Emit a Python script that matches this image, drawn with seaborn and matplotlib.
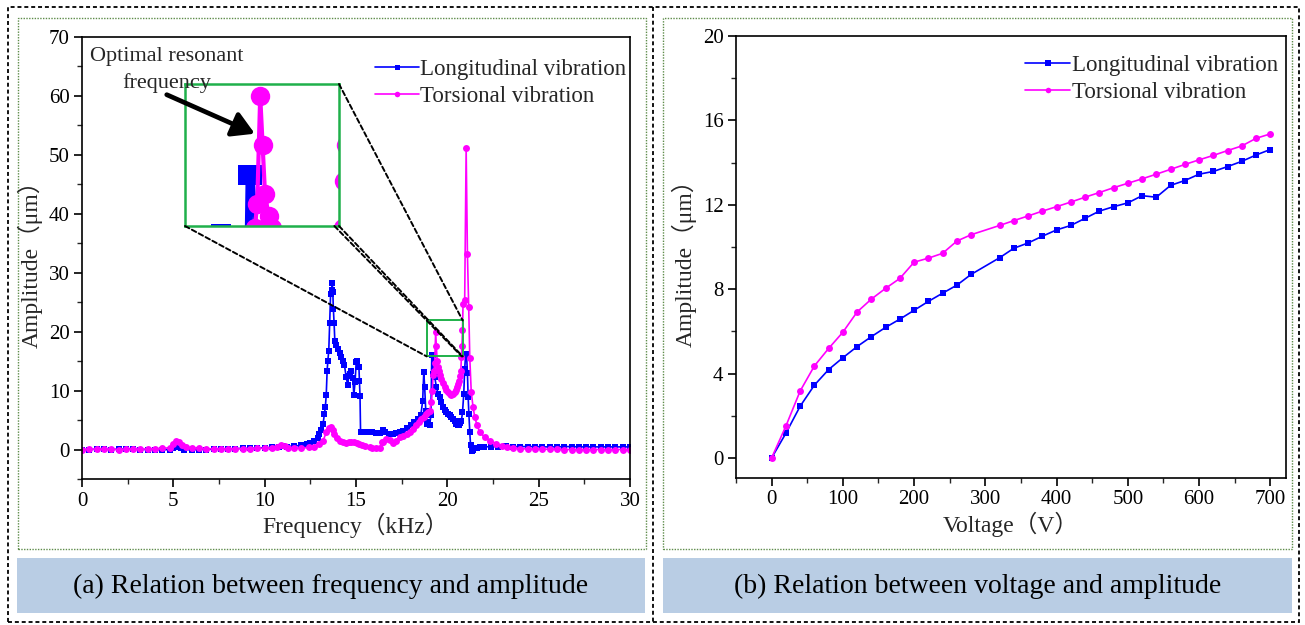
import matplotlib
matplotlib.use("Agg")
import matplotlib.pyplot as plt
import seaborn as sns
from matplotlib.patches import Rectangle, ConnectionPatch, FancyArrowPatch
from matplotlib.lines import Line2D
from matplotlib.ticker import MultipleLocator

# ---------------- data: (a) frequency sweep ----------------
freq_long = [0.0, 0.4, 0.8, 1.2, 1.6, 2.0, 2.4, 2.8, 3.2, 3.6,
             4.0, 4.4, 4.8, 5.0, 5.2, 5.4, 5.6, 6.0, 6.4, 6.8,
             7.2, 7.6, 8.0, 8.4, 8.8, 9.2, 9.6, 10.0, 10.4, 10.8,
             11.0, 11.2, 11.6, 12.0, 12.3, 12.5, 12.7, 12.9, 13.0, 13.1,
             13.2, 13.27, 13.32, 13.37, 13.42, 13.46, 13.51, 13.56, 13.61, 13.66,
             13.70, 13.73, 13.76, 13.80, 13.84, 13.90, 14.00, 14.10, 14.19, 14.28,
             14.37, 14.46, 14.55, 14.60, 14.65, 14.74, 14.83, 14.88, 14.95, 15.01,
             15.08, 15.16, 15.19, 15.22, 15.25, 15.30, 15.50, 15.70, 15.90, 16.10,
             16.30, 16.50, 16.60, 16.80, 17.00, 17.20, 17.40, 17.60, 17.80, 18.00,
             18.20, 18.40, 18.55, 18.65, 18.71, 18.76, 18.82, 18.89, 18.96, 19.03,
             19.10, 19.15, 19.19, 19.23, 19.31, 19.40, 19.49, 19.58, 19.68, 19.76,
             19.86, 19.95, 20.04, 20.13, 20.22, 20.31, 20.40, 20.50, 20.57, 20.64,
             20.71, 20.77, 20.83, 20.90, 20.95, 21.00, 21.05, 21.10, 21.14, 21.18,
             21.23, 21.27, 21.33, 21.40, 21.50, 21.60, 21.80, 22.0, 22.4, 22.8,
             23.2, 23.6, 24.0, 24.4, 24.8, 25.2, 25.6, 26.0, 26.4, 26.8,
             27.2, 27.6, 28.0, 28.4, 28.8, 29.2, 29.6, 30.0]
amp_long = [0.00, 0.00, 0.05, 0.05, 0.00, 0.05, 0.10, 0.05, 0.00, 0.00,
            0.00, -0.05, 0.00, 0.20, 0.35, 0.20, 0.00, -0.05, 0.00, 0.00,
            0.05, 0.10, 0.10, 0.15, 0.20, 0.20, 0.25, 0.30, 0.35, 0.40,
            0.60, 0.50, 0.60, 0.70, 0.90, 1.10, 1.40, 2.00, 2.70, 3.30,
            4.40, 6.10, 7.20, 9.20, 13.4, 15.1, 16.8, 21.5, 26.4, 27.0,
            28.2, 26.8, 23.9, 21.5, 18.5, 17.8, 17.1, 16.4, 15.7, 15.0,
            14.3, 12.3, 10.9, 12.4, 12.9, 13.4, 12.1, 9.2, 11.5, 14.8,
            15.0, 14.0, 11.7, 9.0, 2.9, 3.0, 3.0, 2.9, 2.9, 2.8,
            2.8, 3.3, 3.0, 2.6, 2.6, 2.8, 2.9, 3.2, 3.6, 4.1,
            4.6, 5.2, 5.8, 8.3, 13.1, 10.6, 6.5, 4.4, 4.6, 4.1,
            5.8, 16.0, 12.9, 16.0, 12.3, 10.6, 9.5, 8.9, 8.0, 7.2,
            6.7, 6.3, 6.0, 5.8, 5.5, 5.2, 4.8, 4.4, 4.2, 4.1,
            4.5, 4.9, 6.3, 9.5, 13.7, 16.0, 16.2, 13.0, 8.9, 6.0,
            2.9, 0.8, -0.2, 0.0, 0.2, 0.3, 0.4, 0.45, 0.5, 0.5,
            0.55, 0.5, 0.5, 0.5, 0.5, 0.45, 0.45, 0.45, 0.5, 0.5,
            0.45, 0.45, 0.45, 0.45, 0.45, 0.45, 0.45, 0.45]

freq_tors = [0.0, 0.4, 0.8, 1.2, 1.6, 2.0, 2.4, 2.8, 3.2, 3.6,
             4.0, 4.4, 4.8, 5.0, 5.15, 5.3, 5.5, 5.7, 6.0, 6.4,
             6.8, 7.2, 7.6, 8.0, 8.4, 8.8, 9.2, 9.6, 10.0, 10.4,
             10.7, 10.9, 11.1, 11.3, 11.6, 12.0, 12.4, 12.7, 13.0, 13.2,
             13.37, 13.5, 13.64, 13.75, 13.82, 13.95, 14.1, 14.3, 14.46, 14.6,
             14.74, 14.9, 15.05, 15.19, 15.35, 15.5, 15.74, 15.9, 16.1, 16.3,
             16.4, 16.47, 16.66, 16.85, 17.02, 17.2, 17.39, 17.6, 17.8, 17.94,
             18.1, 18.3, 18.45, 18.58, 18.72, 18.85, 18.95, 19.03, 19.13, 19.18,
             19.22, 19.27, 19.31, 19.36, 19.40, 19.44, 19.50, 19.55, 19.62, 19.68,
             19.77, 19.86, 19.95, 20.04, 20.13, 20.22, 20.31, 20.40, 20.47, 20.53,
             20.59, 20.64, 20.69, 20.74, 20.77, 20.80, 20.83, 20.86, 20.95, 21.03,
             21.10, 21.17, 21.23, 21.31, 21.41, 21.50, 21.63, 21.78, 22.05, 22.33,
             22.69, 23.0, 23.24, 23.6, 24.0, 24.4, 24.8, 25.2, 25.6, 26.0,
             26.4, 26.8, 27.2, 27.6, 28.0, 28.4, 28.8, 29.2, 29.6, 30.0]
amp_tors = [0.0, 0.05, 0.05, 0.05, 0.05, 0.0, 0.05, 0.05, 0.05, 0.1,
            0.15, 0.2, 0.3, 0.9, 1.4, 1.2, 0.7, 0.4, 0.3, 0.2,
            0.15, 0.1, 0.1, 0.1, 0.15, 0.15, 0.15, 0.2, 0.2, 0.3,
            0.5, 0.75, 0.6, 0.3, 0.2, 0.25, 0.35, 0.5, 1.0, 1.5,
            2.9, 3.6, 3.9, 3.3, 2.7, 2.0, 1.5, 1.2, 1.1, 1.2,
            1.25, 1.2, 1.1, 0.97, 0.8, 0.6, 0.4, 0.3, 0.2, 0.2,
            1.2, 1.25, 1.8, 1.6, 1.1, 1.4, 2.1, 2.3, 2.6, 2.9,
            3.4, 4.1, 4.6, 5.2, 5.6, 6.1, 6.4, 6.6, 8.0, 10.0,
            12.6, 13.4, 14.6, 19.9, 17.5, 15.1, 14.0, 13.4, 12.6, 12.0,
            11.3, 10.6, 10.1, 9.7, 9.5, 9.3, 9.4, 9.7, 10.1, 10.6,
            11.2, 11.7, 12.5, 13.4, 15.7, 17.5, 20.2, 24.7, 25.4, 51.1,
            33.1, 24.2, 15.5, 9.7, 7.2, 5.5, 4.1, 2.9, 2.1, 1.5,
            1.0, 0.6, 0.4, 0.25, 0.15, 0.1, 0.05, 0.05, 0.05, 0.05,
            0.0, 0.0, 0.0, 0.0, 0.0, 0.0, 0.0, 0.0, 0.0, 0.0]

# ---------------- data: (b) voltage sweep ----------------
voltage = [0, 20, 40, 60, 80, 100, 120, 140, 160, 180, 200, 220, 240, 260, 280,
           320, 340, 360, 380, 400, 420, 440, 460, 480, 500, 520, 540, 560, 580,
           600, 620, 640, 660, 680, 700]
amp_long_v = [0.0, 1.17, 2.45, 3.45, 4.19, 4.75, 5.28, 5.75, 6.19, 6.58, 7.0, 7.42,
              7.81, 8.19, 8.70, 9.49, 9.94, 10.19, 10.51, 10.81, 11.02, 11.36, 11.70,
              11.91, 12.09, 12.43, 12.36, 12.92, 13.15, 13.45, 13.58, 13.81, 14.06,
              14.36, 14.62]
amp_tors_v = [0.0, 1.51, 3.17, 4.36, 5.19, 5.96, 6.92, 7.53, 8.04, 8.51, 9.28, 9.47,
              9.70, 10.28, 10.58, 11.02, 11.25, 11.47, 11.70, 11.91, 12.13, 12.36,
              12.58, 12.81, 13.02, 13.23, 13.45, 13.68, 13.91, 14.13, 14.34, 14.57,
              14.79, 15.15, 15.36]

series_labels = ["Longitudinal vibration", "Torsional vibration"]
captions = ["(a) Relation between frequency and amplitude",
            "(b) Relation between voltage and amplitude"]

BLUE = "#0000FF"
PINK = "#FF00FF"
GREEN = "#1FB04A"

sns.set_style("ticks")
plt.rcParams["font.family"] = ["Liberation Serif", "Noto Sans CJK SC", "DejaVu Sans"]

W, H = 1305, 625
fig = plt.figure(figsize=(W / 100, H / 100), dpi=100)


def fbox(x0, y0, x1, y1):
    """pixel box (top-left origin) -> figure fraction rect"""
    return [x0 / W, 1 - y1 / H, (x1 - x0) / W, (y1 - y0) / H]


def fpt(x, y):
    return (x / W, 1 - y / H)


# ---------- frame decorations ----------
fig.add_artist(Rectangle(fpt(8, 622), (1299 - 8) / W, (622 - 7) / H, transform=fig.transFigure,
                         fill=False, ec="black", lw=1.3, ls=(0, (2.2, 1.6)), zorder=0))
fig.add_artist(Line2D([653 / W, 653 / W], [1 - 7 / H, 1 - 622 / H], transform=fig.transFigure,
                      color="black", lw=1.3, ls=(0, (2.2, 1.6)), zorder=0))
for (x0, x1) in [(18, 646), (663, 1292)]:
    fig.add_artist(Rectangle(fpt(x0, 549), (x1 - x0) / W, (549 - 18) / H, transform=fig.transFigure,
                             fill=False, ec="#5E8C4A", lw=1.0, ls=(0, (1, 1)), zorder=0))
for (x0, x1), cap in zip([(17, 645), (663, 1292)], captions):
    fig.add_artist(Rectangle(fpt(x0, 613), (x1 - x0) / W, (613 - 558) / H, transform=fig.transFigure,
                             fc="#B9CDE4", ec="none", zorder=0))
    fig.text((x0 + x1) / 2 / W, 1 - 586 / H, cap, ha="center", va="center", fontsize=20, color="black")


def style_axes(ax):
    for s in ax.spines.values():
        s.set_visible(True)
        s.set_linewidth(1.2)
        s.set_color("black")
    ax.tick_params(which="major", direction="out", length=6, width=1.2, labelsize=15, pad=3,
                   bottom=True, left=True, top=False, right=False, colors="black")
    ax.tick_params(which="minor", direction="out", length=3.5, width=1.0,
                   bottom=True, left=True, top=False, right=False)


# ---------- panel (a) ----------
ax1 = fig.add_axes(fbox(82, 37, 630, 479))
sns.lineplot(x=freq_long, y=amp_long, ax=ax1, color=BLUE, marker="s", markersize=4.5,
             markeredgewidth=0, linewidth=1.2, sort=False, estimator=None, label=series_labels[0])
sns.lineplot(x=freq_tors, y=amp_tors, ax=ax1, color=PINK, marker="o", markersize=5,
             markeredgewidth=0, linewidth=1.2, sort=False, estimator=None, label=series_labels[1])
ax1.set_xlim(0, 30)
ax1.set_ylim(-5, 70)
ax1.set_xticks(range(0, 31, 5))
ax1.set_yticks(range(0, 71, 10))
ax1.xaxis.set_minor_locator(MultipleLocator(2.5))
ax1.yaxis.set_minor_locator(MultipleLocator(5))
style_axes(ax1)
ax1.set_xlabel("Frequency（kHz）", fontsize=17, labelpad=2)
ax1.set_ylabel("Amplitude（μm）", fontsize=17, labelpad=4)
ax1.legend(loc="upper right", bbox_to_anchor=(0.993, 0.95), borderaxespad=0, borderpad=0,
           frameon=False, fontsize=16.5, handlelength=1.9, handletextpad=0.05,
           labelspacing=0.26, markerscale=0.8)

# zoom rectangle
rx0, rx1, ry0, ry1 = 18.87, 20.84, 15.8, 21.9
ax1.add_patch(Rectangle((rx0, ry0), rx1 - rx0, ry1 - ry0, fill=False, ec=GREEN, lw=1.4, zorder=5))

# inset
axin = fig.add_axes(fbox(185, 84, 339, 226))
sns.lineplot(x=freq_long, y=amp_long, ax=axin, color=BLUE, marker="s", markersize=15,
             markeredgewidth=0, linewidth=3, sort=False, estimator=None, legend=False)
sns.lineplot(x=freq_tors, y=amp_tors, ax=axin, color=PINK, marker="o", markersize=14,
             markeredgewidth=0, linewidth=3, sort=False, estimator=None, legend=False)
axin.set_xlim(18.10, 20.68)
axin.set_ylim(13.5, 20.5)
axin.set_xticks([])
axin.set_yticks([])
axin.set_xlabel("")
axin.set_ylabel("")
for s in axin.spines.values():
    s.set_color(GREEN)
    s.set_linewidth(1.8)

conn_kw = dict(color="black", lw=1.4, ls=(0, (2.5, 1.5)), zorder=6)
for xa, xb in [((0, 0), (rx0, ry0)), ((1, 0), (rx1, ry0)), ((0.97, 0), (rx1 - 0.05, ry0)),
               ((1, 1), (rx1, ry1))]:
    fig.add_artist(ConnectionPatch(xyA=xa, coordsA=axin.transAxes, xyB=xb, coordsB=ax1.transData,
                                   **conn_kw))

# annotation
fig.text(4.65, 64.4, "Optimal resonant\nfrequency", transform=ax1.transData, ha="center",
         va="center", fontsize=16, linespacing=1.5, zorder=10)
fig.add_artist(FancyArrowPatch((4.5, 60.4), (9.6, 53.4), transform=ax1.transData,
                               arrowstyle="-|>,head_length=0.6,head_width=0.35", lw=3.4,
                               mutation_scale=22, color="black", zorder=10))

# ---------- panel (b) ----------
ax2 = fig.add_axes(fbox(736, 36, 1286, 478))
sns.lineplot(x=voltage, y=amp_long_v, ax=ax2, color=BLUE, marker="s", markersize=5,
             markeredgewidth=0, linewidth=1.2, sort=False, estimator=None, label=series_labels[0])
sns.lineplot(x=voltage, y=amp_tors_v, ax=ax2, color=PINK, marker="o", markersize=5,
             markeredgewidth=0, linewidth=1.2, sort=False, estimator=None, label=series_labels[1])
ax2.set_xlim(-50, 722)
ax2.set_ylim(-0.95, 20)
ax2.set_xticks(range(0, 701, 100))
ax2.set_yticks(range(0, 21, 4))
ax2.xaxis.set_minor_locator(MultipleLocator(50))
ax2.yaxis.set_minor_locator(MultipleLocator(2))
style_axes(ax2)
ax2.set_xlabel("Voltage（V）", fontsize=17, labelpad=2)
ax2.set_ylabel("Amplitude（μm）", fontsize=17, labelpad=4)
ax2.legend(loc="upper right", bbox_to_anchor=(0.985, 0.957), borderaxespad=0, borderpad=0,
           frameon=False, fontsize=16.5, handlelength=2.0, handletextpad=0.05,
           labelspacing=0.26, markerscale=0.8)

fig.savefig("out.png", dpi=100)
